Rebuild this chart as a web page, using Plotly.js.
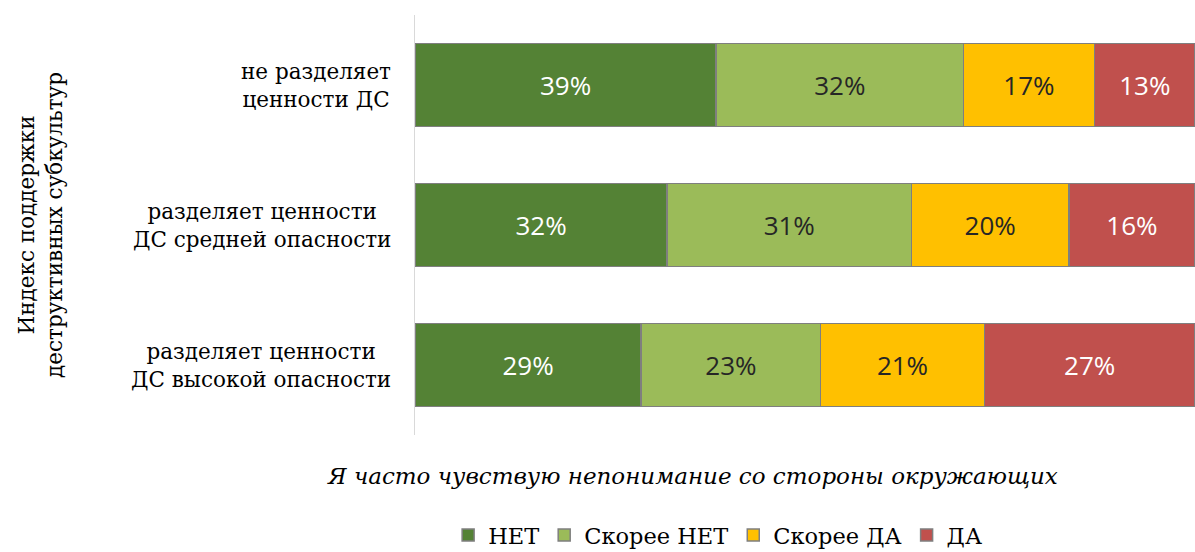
<!DOCTYPE html>
<html>
<head>
<meta charset="utf-8">
<script src="https://cdn.plot.ly/plotly-3.0.1.min.js"></script>
<style>html,body{margin:0;padding:0;background:#fff;}#chart{width:1195px;height:552px;}</style>
</head>
<body>
<div id="chart"></div>
<script>
const categories = ['не разделяет<br>ценности ДС', 'разделяет ценности<br>ДС средней опасности', 'разделяет ценности<br>ДС высокой опасности'];
const seriesNames = ['НЕТ', 'Скорее НЕТ', 'Скорее ДА', 'ДА'];
const valNet = [39, 32, 29];
const valSkoreeNet = [32, 31, 23];
const valSkoreeDa = [17, 20, 21];
const valDa = [13, 16, 27];
const yTitle = 'Индекс поддержки<br>деструктивных субкультур';
const xTitle = 'Я часто чувствую непонимание со стороны окружающих';

const colors = ['#548235', '#9BBB59', '#FFC000', '#C0504D'];
const textColors = ['#ffffff', '#262626', '#262626', '#ffffff'];
const allVals = [valNet, valSkoreeNet, valSkoreeDa, valDa];

const traces = allVals.map((v, i) => ({
  type: 'bar',
  orientation: 'h',
  name: seriesNames[i],
  x: v,
  y: categories,
  text: v.map(d => d + '%'),
  texttemplate: '%{text}',
  textposition: 'inside',
  insidetextanchor: 'middle',
  textangle: 0,
  constraintext: 'none',
  textfont: {family: 'Open Sans', size: 26, color: textColors[i]},
  marker: {color: colors[i], line: {color: '#7f7f7f', width: 1.5}},
  hoverinfo: 'skip'
}));

const serif = '"DejaVu Serif", serif';
const annotations = categories.map(c => ({
  xref: 'paper', yref: 'y', x: 0, y: c, xanchor: 'right', yanchor: 'middle',
  xshift: -22, text: c, align: 'center', showarrow: false,
  font: {family: serif, size: 21.5, color: '#000'}
}));
annotations.push({
  xref: 'paper', yref: 'paper', x: 0.356, y: -0.098, xanchor: 'center', yanchor: 'middle',
  text: '<i>' + xTitle + '</i>', showarrow: false,
  font: {family: serif, size: 23, color: '#000'}
});

const layout = {
  width: 1195, height: 552,
  margin: {l: 415, r: 0, t: 15, b: 117},
  paper_bgcolor: '#fff', plot_bgcolor: '#fff',
  barmode: 'stack',
  barnorm: 'percent',
  bargap: 0.41,
  showlegend: true,
  legend: {
    orientation: 'h', xref: 'container', yref: 'container',
    x: 0.375, xanchor: 'left', y: 0.03, yanchor: 'middle',
    font: {family: serif, size: 22.5, color: '#000'},
    traceorder: 'normal', itemclick: false, itemdoubleclick: false
  },
  xaxis: {range: [0, 100], showgrid: false, zeroline: false, showticklabels: false, showline: false, ticks: '', fixedrange: true},
  yaxis: {
    type: 'category', autorange: 'reversed', showgrid: false, zeroline: false,
    showticklabels: false, ticks: '', showline: true, linecolor: '#d9d9d9', linewidth: 1,
    automargin: false, fixedrange: true,
    title: {text: yTitle, standoff: 345, font: {family: serif, size: 21.5, color: '#000'}}
  },
  annotations: annotations
};

Plotly.newPlot('chart', traces, layout, {displayModeBar: false, staticPlot: true});
</script>
</body>
</html>
